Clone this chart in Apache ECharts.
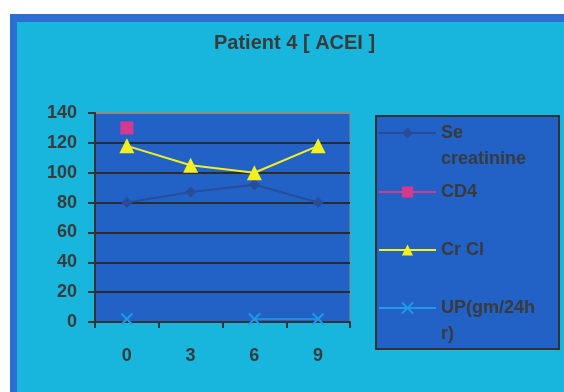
<!DOCTYPE html>
<html>
<head>
<meta charset="utf-8">
<script src="https://cdn.jsdelivr.net/npm/echarts@6/dist/echarts.min.js"></script>
<style>
html,body{margin:0;padding:0;background:#fff;width:564px;height:392px;overflow:hidden;}
#frame{position:absolute;left:10px;top:14px;width:547px;height:370px;background:#18b6dc;border-left:7px solid #2b6fd3;border-top:8px solid #2b6fd3;}
#c{position:absolute;left:0;top:0;width:564px;height:392px;}
</style>
</head>
<body>
<div id="frame"></div>
<div id="c"></div>
<script>
var categories = ['0', '3', '6', '9'];
var seCreatinine = [80, 87, 92, 80];
var cd4 = [130, null, null, null];
var crCl = [118, 105, 100, 118];
var upGm = [2, null, 2, 2];
var yTicks = {min: 0, max: 140, interval: 20};
var titleText = 'Patient 4 [ ACEI ]';
var names = ['Se creatinine', 'CD4', 'Cr Cl', 'UP(gm/24hr)'];
var legendLabels = {'Se creatinine': '\nSe\ncreatinine', 'CD4': 'CD4', 'Cr Cl': 'Cr Cl', 'UP(gm/24hr)': '\nUP(gm/24h\nr)'};

var FONT = '"Liberation Sans", Arial, sans-serif';
var TXT = '#3a3a3a';
var chart = echarts.init(document.getElementById('c'), null, {renderer: 'canvas'});

function mkLegend(name, top) {
  return {
    left: 378, top: top, padding: 0, orient: 'vertical',
    itemWidth: 57, itemHeight: 14, selectedMode: false,
    formatter: function (n) { return legendLabels[n]; },
    textStyle: {fontFamily: FONT, fontWeight: 'bold', fontSize: 18, color: TXT, lineHeight: 26},
    data: [{name: name}]
  };
}

chart.setOption({
  backgroundColor: 'transparent',
  animation: false,
  title: {
    text: titleText, left: 214, top: 33, padding: 0,
    textStyle: {fontFamily: FONT, fontWeight: 'bold', fontSize: 20, color: TXT}
  },
  graphic: [{
    type: 'rect', z: 1, left: 375, top: 115,
    shape: {width: 183, height: 233},
    style: {fill: '#2262c6', stroke: '#333', lineWidth: 2}
  }],
  legend: [
    mkLegend(names[0], 94),
    mkLegend(names[1], 179),
    mkLegend(names[2], 237),
    mkLegend(names[3], 269)
  ],
  grid: {
    left: 95, top: 113, width: 255, height: 209, show: true,
    backgroundColor: '#2262c6', borderColor: '#8a8a8a', borderWidth: 1
  },
  xAxis: {
    type: 'category', data: categories, boundaryGap: true,
    axisLine: {lineStyle: {color: '#333', width: 2}},
    axisTick: {show: true, length: 6, lineStyle: {color: '#333', width: 2}},
    axisLabel: {fontFamily: FONT, fontWeight: 'bold', fontSize: 18, color: TXT, margin: 25},
    splitLine: {show: false}
  },
  yAxis: {
    type: 'value', min: yTicks.min, max: yTicks.max, interval: yTicks.interval,
    axisLine: {show: true, lineStyle: {color: '#333', width: 2}},
    axisTick: {show: true, length: 7, lineStyle: {color: '#333', width: 2}},
    axisLabel: {fontFamily: FONT, fontWeight: 'bold', fontSize: 18, color: TXT, margin: 18},
    splitLine: {show: true, lineStyle: {color: ['#2b2b2b','#2b2b2b','#2b2b2b','#2b2b2b','#2b2b2b','#2b2b2b','#2b2b2b','#8a8a8a'], width: 2}}
  },
  series: [{
    name: names[0], type: 'line', data: seCreatinine,
    symbol: 'diamond', symbolSize: 11,
    itemStyle: {color: '#284c98'}, lineStyle: {color: '#284c98', width: 2}
  }, {
    name: names[1], type: 'line', data: cd4,
    symbol: 'rect', symbolSize: 13,
    itemStyle: {color: '#d63a8f'}, lineStyle: {color: '#d63a8f', width: 1.5}
  }, {
    name: names[2], type: 'line', data: crCl,
    symbol: 'triangle', symbolSize: 15,
    itemStyle: {color: '#f5ef1e'}, lineStyle: {color: '#f5ef1e', width: 2}
  }, {
    name: names[3], type: 'line', data: upGm, connectNulls: false,
    symbol: 'path://M0,0L10,10M10,0L0,10', symbolSize: 11,
    itemStyle: {color: '#1e9be8', borderColor: '#1e9be8', borderWidth: 2},
    lineStyle: {color: '#1e9be8', width: 1.5}
  }]
});
</script>
</body>
</html>
